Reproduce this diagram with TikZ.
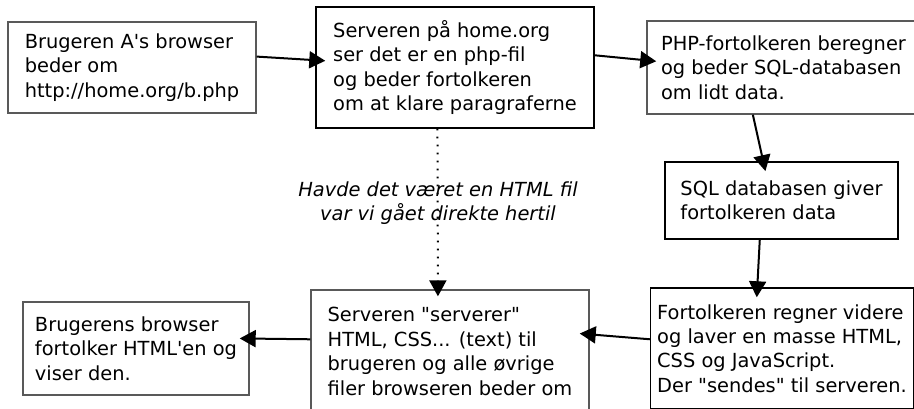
\documentclass[tikz,border=0pt]{standalone}
\usepackage{fontspec}
\setmainfont{DejaVu Sans}[Ligatures=TeXOff]
\usetikzlibrary{arrows.meta}

\begin{document}
\begin{tikzpicture}[x=0.5pt, y=-0.5pt,
    box/.style={draw=black!65, line width=0.7pt, align=left, font=\fontsize{9.7pt}{12.2pt}\selectfont},
    flow/.style={-{Triangle[length=8pt,width=8.5pt]}, line width=1pt, shorten >=-5pt}]
  \clip (0,0) rectangle (914,408);

  % Upper row
  \node[box, minimum width=124pt, minimum height=45.5pt] (browser) at (132,67.5)
    {Brugeren A's browser\\beder om\\http://home.org/b.php};
  \node[box, draw=black, minimum width=139pt, minimum height=60.5pt] (server) at (455,67.5)
    {Serveren på home.org\\ser det er en php-fil\\og beder fortolkeren\\om at klare paragraferne};
  \node[box, minimum width=136.5pt, minimum height=46.5pt] (php) at (783.5,67.5)
    {PHP-fortolkeren beregner\\og beder SQL-databasen\\om lidt data.};

  % Database
  \node[box, draw=black, minimum width=116.5pt, minimum height=38.5pt] (sql) at (781.5,200.5)
    {SQL databasen giver\\fortolkeren data};

  % Lower row
  \node[box, draw=black, minimum width=131pt, minimum height=60.5pt] (output) at (782,348.5)
    {Fortolkeren regner videre\\og laver en masse HTML,\\CSS og JavaScript.\\Der "sendes" til serveren.};
  \node[box, minimum width=139pt, minimum height=61.5pt] (html) at (450,351.5)
    {Serveren "serverer"\\HTML, CSS... (text) til\\brugeren og alle øvrige\\filer browseren beder om};
  \node[box, minimum width=113pt, minimum height=46.5pt] (render) at (136,348.5)
    {Brugerens browser\\fortolker HTML'en og\\viser den.};

  % Shortcut for plain HTML
  \node[font=\fontsize{9.7pt}{12.2pt}\selectfont\itshape, align=center] (note) at (438,203)
    {Havde det været en HTML fil\\var vi gået direkte hertil};

  % Arrows
  \draw[flow] (browser.5) -- (server.177.5);
  \draw[flow] (server.5) -- (php.177);
  \draw[flow] (php.237.6) -- (sql.115.7);
  \draw[flow] (sql.241) -- (output.112.5);
  \draw[flow] (output.176) -- (html.7);
  \draw[flow] (html.175) -- (render.5);
  \draw[flow, dash pattern=on 0.8pt off 3.2pt, shorten >=-3.5pt] (server.254.3) -- (html.101);
\end{tikzpicture}
\end{document}
